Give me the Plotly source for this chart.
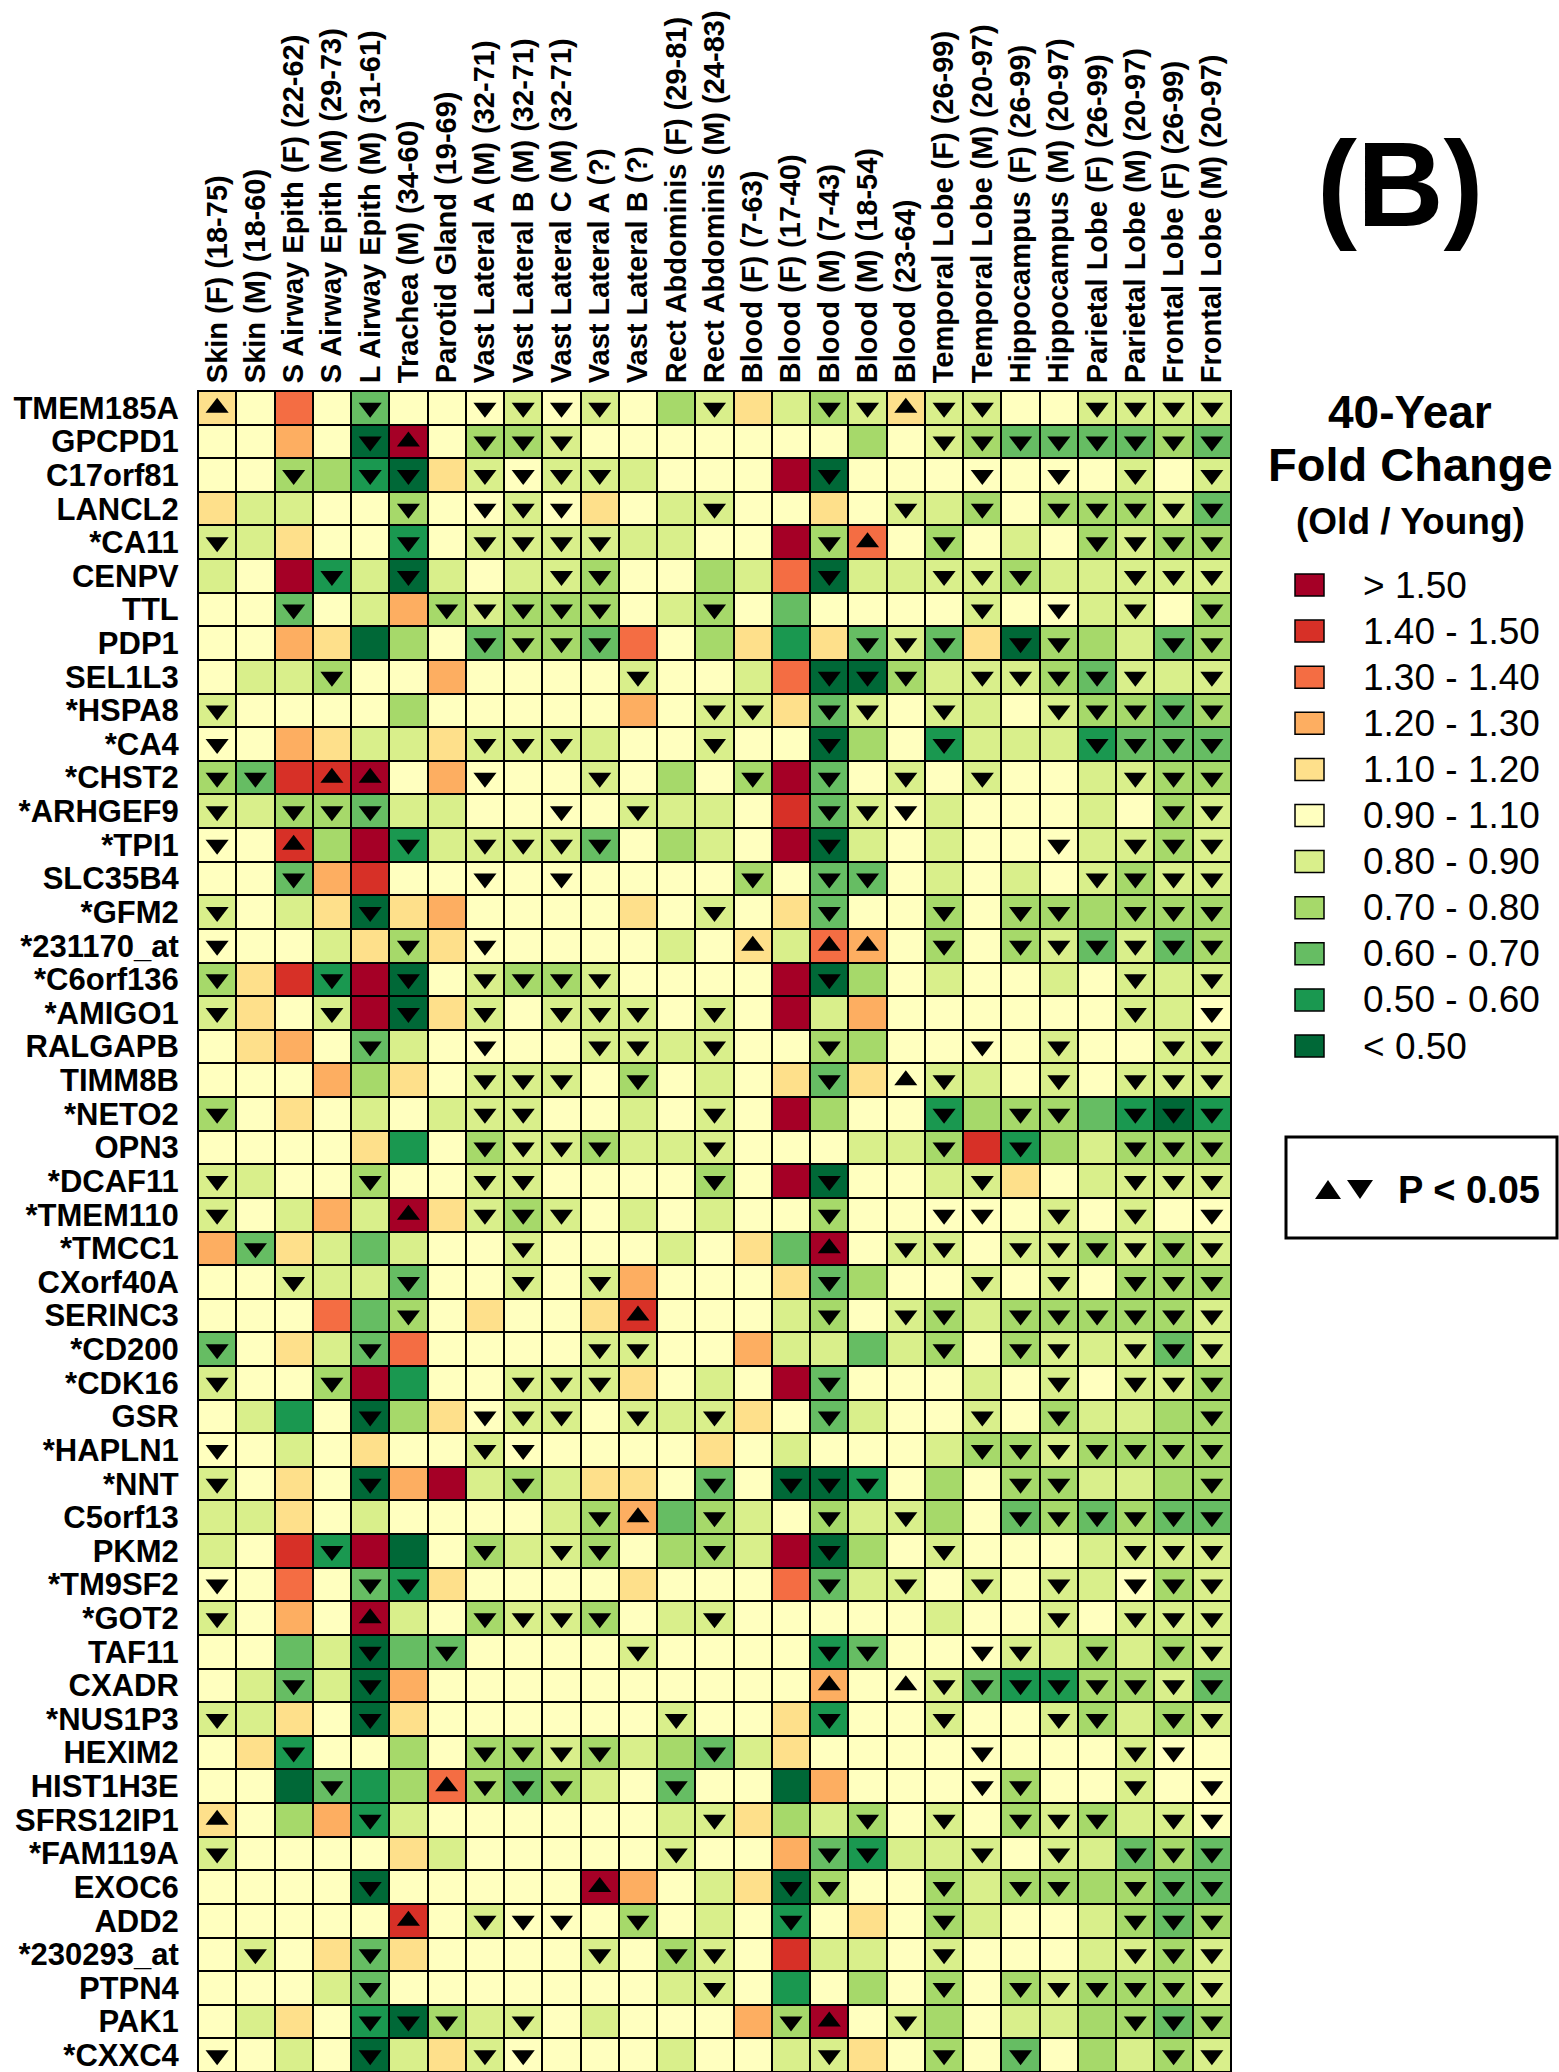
import plotly.graph_objects as go

genes = ["TMEM185A", "GPCPD1", "C17orf81", "LANCL2", "*CA11", "CENPV", "TTL", "PDP1",
         "SEL1L3", "*HSPA8", "*CA4", "*CHST2", "*ARHGEF9", "*TPI1", "SLC35B4", "*GFM2",
         "*231170_at", "*C6orf136", "*AMIGO1", "RALGAPB", "TIMM8B", "*NETO2", "OPN3",
         "*DCAF11", "*TMEM110", "*TMCC1", "CXorf40A", "SERINC3", "*CD200", "*CDK16", "GSR",
         "*HAPLN1", "*NNT", "C5orf13", "PKM2", "*TM9SF2", "*GOT2", "TAF11", "CXADR",
         "*NUS1P3", "HEXIM2", "HIST1H3E", "SFRS12IP1", "*FAM119A", "EXOC6", "ADD2",
         "*230293_at", "PTPN4", "PAK1", "*CXXC4"]

tissues = ["Skin (F) (18-75)", "Skin (M) (18-60)", "S Airway Epith (F) (22-62)",
           "S Airway Epith (M) (29-73)", "L Airway Epith (M) (31-61)", "Trachea (M) (34-60)",
           "Parotid Gland (19-69)", "Vast Lateral A (M) (32-71)", "Vast Lateral B (M) (32-71)",
           "Vast Lateral C (M) (32-71)", "Vast Lateral A (?)", "Vast Lateral B (?)",
           "Rect Abdominis (F) (29-81)", "Rect Abdominis (M) (24-83)", "Blood (F) (7-63)",
           "Blood (F) (17-40)", "Blood (M) (7-43)", "Blood (M) (18-54)", "Blood (23-64)",
           "Temporal Lobe (F) (26-99)", "Temporal Lobe (M) (20-97)", "Hippocampus (F) (26-99)",
           "Hippocampus (M) (20-97)", "Parietal Lobe (F) (26-99)", "Parietal Lobe (M) (20-97)",
           "Frontal Lobe (F) (26-99)", "Frontal Lobe (M) (20-97)"]

# fold-change classes, lowest to highest
bin_codes = "ABCDEFGHIJK"
bin_labels = ["< 0.50", "0.50 - 0.60", "0.60 - 0.70", "0.70 - 0.80", "0.80 - 0.90",
              "0.90 - 1.10", "1.10 - 1.20", "1.20 - 1.30", "1.30 - 1.40", "1.40 - 1.50", "> 1.50"]
bin_colors = ["#006837", "#1a9850", "#66bd63", "#a6d96a", "#d9ef8b", "#ffffbf",
              "#fee08b", "#fdae61", "#f46d43", "#d73027", "#a50026"]

# one string per gene, one character per tissue (fold-change class)
fold_class = [
    "GFIFCFFFEFEFDE" "GEDEGEEFFEEEE",
    "FFHFAKFDDEFFFF" "FFFDFEDCCCCDC",
    "FFDDBAGEFEEEFF" "FKAFFFFFFFEFE",
    "GEEFFDFFEFGFEE" "FFGFEEDFDDDEC",
    "EEGFFBFEEEEEEF" "FKDIFDFEFDEDD",
    "EFKBEAEFEEDFFD" "EIAEEEEDEEEEE",
    "FFCFEHDEDDDFED" "FCFFFFEFFEEFD",
    "FFHGADFCDDCIFD" "GBGCECGADDECD",
    "FEEDFFHFFFFEFF" "EIAADEEEDCEEE",
    "EFFFFDFFFFFHFE" "EGCEFEEFEDDCD",
    "FFHGEEGEEEEFFE" "FFADFBEEEBCCC",
    "DCJJKFHFFFEFDF" "DKCFEFEFFEEDD",
    "EEDDCEEFFFFEEE" "FJCEFEFFFEFDE",
    "FFJDKBEEEECFDE" "FKAEFEFFFEEDE",
    "FFCHJFFFFFFFFF" "DFCCFEFEFEDEE",
    "EFEGAGHFFFFGFE" "FGCFFDFDDDDDD",
    "FFFEGDGFFFFFEF" "GEIHFDFDECECD",
    "DGJBKAFEDDEFFF" "FKADFEFFEFEEE",
    "EGFEKAGEFEEEFE" "FKEHFFFFFFEEF",
    "FGHFCEFFFFEEEE" "FFDDFFFFEFFEE",
    "FFFHDGFEEEFDFE" "FGCGFEEFEFEEE",
    "DFGFEFEEEFFEFE" "FKDFFBDDDCBAB",
    "FFFFGBFDEEDEEE" "FFFEEDJBDEDDD",
    "EEFFDFFEEFFFFD" "FKAFFEEGFEEEE",
    "EFEHEKGEDEFEFE" "FFDFFFFFEFEFF",
    "HCGECEFFEFFFEF" "GCKFEEFEEDEDE",
    "FFEEECFFEFEHFF" "FGCDFFEFEFDDD",
    "FFFICDFGFFGJFF" "FEDFEDEDDDDDE",
    "CFGECIFFFFEEFF" "HEECEDFDEEECE",
    "EFFDKBFFEEEGFE" "FKCFFFEFEFEED",
    "FEBFADGFEEFEEE" "GFCEFFEFDEEDD",
    "FFEFGFFEFFFFFG" "FEFFFEDDEDDDD",
    "EFGFAHKEDEGGFC" "FAABFDFDDEEDD",
    "EEGFEFFFFEDHCD" "EFDEEDFCDCDCC",
    "EFJBKAFDEEDFDD" "EKADFEFFFEEEE",
    "FFIFCBGFFFFGFF" "FICEEFEFEEFDE",
    "EFHFKEFDEEDFEE" "FFFFFEFFEFEEE",
    "FFCEACCFFFFEFF" "FFBCFFFEEDEDE",
    "FECEAHFFFFFFFF" "FFHFFECBBDDEC",
    "EEGFAGFFFFFFEF" "FGBFFEFFEDEDE",
    "FGBFFDFDDEDEDC" "EGFFFFFFFFEFF",
    "FFACBDIDCDEFCF" "FAHFFFFDFFEFF",
    "GFDHBEFFFFFFEE" "GDEDFEFDEDEEF",
    "EFFFFGEFFFFFEF" "FHCBEEEFEECDC",
    "FFFFAFFFFFKHFE" "GADFFDEDDDDCC",
    "FFFFFJFEFFFDFE" "FBFGFDEFFEDCD",
    "FEFGCGFFFFEFDE" "FJEEFEFFFEEDE",
    "FFFECFFFFFFFEE" "FBFDFDFDEDDDE",
    "FEGFBADEEFEFFF" "HDKFEDFEEDDCD",
    "FFEFAEGEFFFFEF" "FEEGFDFCFDEDE",
]

# significance (P < 0.05): u = increase, d = decrease, . = n.s.
signif = [
    "u...d..dddd..d" "..ddudd..dddd",
    "....du.ddd...." ".....dddddddd",
    "..d.dd.dddd..." "..d...d.d.d.d",
    ".....d.ddd...d" "....d.d.ddddd",
    "d....d.dddd..." "..du.d...dddd",
    "...d.d...dd..." "..d..ddd..ddd",
    "..d...ddddd..d" "......d.d.d.d",
    ".......dddd..." "...ddd.dd..dd",
    "...d.......d.." "..ddd.ddddd.d",
    "d............d" "d.dd.d..ddddd",
    "d......ddd...d" "..d..d...dddd",
    "dd.uu..d..d..." "d.d.d.d...ddd",
    "d.ddd....d.d.." "..ddd......dd",
    "d.u..d.dddd..." "..d.....d.ddd",
    "..d....d.d...." "d.dd.....dddd",
    "d...d........d" "..d..d.dd.ddd",
    "d....d.d......" "u.uu.d.dddddd",
    "d..d.d.dddd..." "..d.......d.d",
    "d..d.d.d.ddd.d" "..........d.d",
    "....d..d..dd.d" "..d...d.d..dd",
    ".......ddd.d.." "..d.ud..d.ddd",
    "d......dd....d" ".....d.dd.ddd",
    ".......dddd..d" ".....d.d..ddd",
    "d...d..dd....d" "..d...d...ddd",
    "d....u.ddd...." "..d..dd.d.d.d",
    ".d......d....." "..u.dd.dddddd",
    "..d..d..d.d..." "..d...d.d.ddd",
    ".....d.....u.." "..d.dd.dddddd",
    "d...d.....dd.." ".....d.dd.ddd",
    "d..d....ddd..." "..d.....d.ddd",
    "....d..ddd.d.d" "..d...d.d...d",
    "d......dd....." "......ddddddd",
    "d...d...d....d" ".ddd...dd...d",
    "..........du.d" "..d.d..dddddd",
    "...d...d.dd..d" "..d..d....ddd",
    "d...dd........" "..d.d.d.d.ddd",
    "d...u..dddd..d" "........d.ddd",
    "....d.d....d.." "..dd..dd.d.dd",
    "..d.d........." "..u.udddddddd",
    "d...d.......d." "..d..d..dd.dd",
    "..d....dddd..d" "......d...dd.",
    "...d..uddd..d." "......dd..d.d",
    "u...d........d" "...d.d.ddd.dd",
    "d...........d." "..dd..d.d.ddd",
    "....d.....u..." ".dd..d.dd.ddd",
    ".....u.ddd.d.." ".d...d....ddd",
    ".d..d.....d.dd" ".....d....ddd",
    "....d........d" ".....d.dddddd",
    "....ddd.d....." ".du.d.....ddd",
    "d...d..dd....." "..d..d.d...dd",
]

FONT = "Liberation Sans"
W, H = 1559, 2072
L, R, T, B = 198, 1231, 391, 2072


def px(x):
    return (x - L) / (R - L)


def py(y):
    return 1 - (y - T) / (B - T)


nb = len(bin_colors)
z = [[bin_codes.index(c) for c in row] for row in fold_class]
hover = [[f"{genes[i]}<br>{tissues[j]}<br>{bin_labels[z[i][j]]}" for j in range(len(tissues))]
         for i in range(len(genes))]
colorscale = []
for k, col in enumerate(bin_colors):
    colorscale.append([k / nb, col])
    colorscale.append([(k + 1) / nb, col])

fig = go.Figure()
fig.add_trace(go.Heatmap(
    z=z, x=list(range(len(tissues))), y=list(range(len(genes))),
    colorscale=colorscale, zmin=-0.5, zmax=nb - 0.5, showscale=False,
    xgap=2, ygap=2, text=hover, hoverinfo="text"))

for code, sym in (("u", "triangle-up"), ("d", "triangle-down")):
    xs, ys = [], []
    for i, row in enumerate(signif):
        for j, c in enumerate(row):
            if c == code:
                xs.append(j)
                ys.append(i)
    fig.add_trace(go.Scatter(x=xs, y=ys, mode="markers", hoverinfo="skip",
                             marker=dict(symbol=sym, size=20, color="black", line=dict(width=0)),
                             showlegend=False))

shapes = [dict(type="rect", xref="paper", yref="paper", x0=0, x1=1, y0=0, y1=1,
               line=dict(color="black", width=2))]
annotations = []

# "(B)"
annotations.append(dict(text="<b>(B)</b>", x=px(1400), y=py(184), xref="paper", yref="paper",
                        showarrow=False, xanchor="center", yanchor="middle",
                        font=dict(family=FONT, size=120, color="black")))
# legend title
for txt, yc, sz in (("40-Year", 412, 46), ("Fold Change", 465, 47), ("(Old / Young)", 521, 37)):
    annotations.append(dict(text=f"<b>{txt}</b>", x=px(1410), y=py(yc), xref="paper", yref="paper",
                            showarrow=False, xanchor="center", yanchor="middle",
                            font=dict(family=FONT, size=sz, color="black")))
# legend entries (highest class first)
for n, k in enumerate(range(nb - 1, -1, -1)):
    yc = 585 + n * 46.1
    shapes.append(dict(type="rect", xref="paper", yref="paper",
                       x0=px(1295), x1=px(1324), y0=py(yc + 11), y1=py(yc - 11),
                       fillcolor=bin_colors[k], line=dict(color="black", width=1.5)))
    annotations.append(dict(text=bin_labels[k], x=px(1361), y=py(yc), xref="paper", yref="paper",
                            showarrow=False, xanchor="left", yanchor="middle",
                            font=dict(family=FONT, size=37, color="black")))
# significance box
shapes.append(dict(type="rect", xref="paper", yref="paper",
                   x0=px(1286), x1=px(1557), y0=py(1238), y1=py(1137),
                   line=dict(color="black", width=3)))


def tri_path(x0, x1, ytop, ybot, up):
    xm = (x0 + x1) / 2
    if up:
        pts = [(x0, ybot), (x1, ybot), (xm, ytop)]
    else:
        pts = [(x0, ytop), (x1, ytop), (xm, ybot)]
    return "M " + " L ".join(f"{px(a):.5f},{py(b):.5f}" for a, b in pts) + " Z"


shapes.append(dict(type="path", xref="paper", yref="paper", path=tri_path(1315, 1341, 1180, 1199, True),
                   fillcolor="black", line=dict(width=0)))
shapes.append(dict(type="path", xref="paper", yref="paper", path=tri_path(1347, 1373, 1180, 1199, False),
                   fillcolor="black", line=dict(width=0)))
annotations.append(dict(text="<b>P < 0.05</b>", x=px(1396), y=py(1190), xref="paper", yref="paper",
                        showarrow=False, xanchor="left", yanchor="middle",
                        font=dict(family=FONT, size=38, color="black")))

fig.update_layout(
    width=W, height=H,
    margin=dict(l=L, r=W - R, t=T, b=H - B, pad=0),
    paper_bgcolor="white", plot_bgcolor="black",
    showlegend=False,
    shapes=shapes, annotations=annotations,
    xaxis=dict(range=[-0.5, len(tissues) - 0.5], side="top", tickmode="array",
               tickvals=list(range(len(tissues))), ticktext=tissues, tickangle=-90,
               tickfont=dict(family=FONT, size=29, color="black", weight="bold"),
               ticks="outside", ticklen=1, tickcolor="rgba(0,0,0,0)", ticklabeloverflow="allow",
               showgrid=False, zeroline=False, showline=False, automargin=False, fixedrange=True),
    yaxis=dict(range=[len(genes) - 0.5, -0.5], tickmode="array",
               tickvals=list(range(len(genes))), ticktext=genes,
               tickfont=dict(family=FONT, size=31, color="black", weight="bold"),
               ticks="outside", ticklen=12, tickcolor="rgba(0,0,0,0)", ticklabeloverflow="allow",
               showgrid=False, zeroline=False, showline=False, automargin=False, fixedrange=True),
)

fig.write_html("out.html", config={"displayModeBar": False},
               post_script="document.body.style.margin='0px';document.body.style.overflow='hidden';")
